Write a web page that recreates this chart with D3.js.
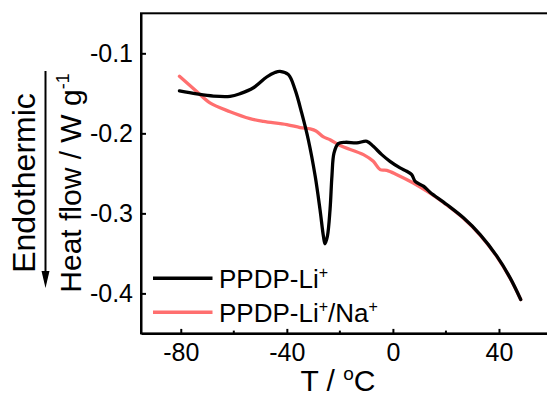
<!DOCTYPE html>
<html>
<head>
<meta charset="utf-8">
<script src="https://cdn.jsdelivr.net/npm/d3@7"></script>
<style>
  body { margin: 0; background: #fff; }
  text { font-family: Arial, "Liberation Sans", sans-serif; fill: #000; }
</style>
</head>
<body>
<div id="chart"></div>
<script>
// ===== data =====
let tempLi   = [-80.5, -74, -67.7, -61.4, -57.6, -52.6, -47.6, -44.5, -42.6, -39.4, -36.9, -34.4, -31.9, -29.3, -27.5, -26.2, -25.6, -24.7, -23.7, -23, -22.2, -20.6, -18, -13.6, -9.8, -7.4, -4.2, -1.1, 2.7, 5.2, 7.1, 8.4, 11.5, 14, 20.3, 26.6, 32.9, 39.2, 44.2, 48.2];
let flowLi   = [-0.147, -0.1508, -0.1535, -0.1538, -0.1504, -0.143, -0.1296, -0.124, -0.1226, -0.1267, -0.1454, -0.1745, -0.208, -0.2537, -0.295, -0.3286, -0.338, -0.3286, -0.295, -0.2537, -0.2245, -0.2129, -0.2112, -0.212, -0.21, -0.2162, -0.2266, -0.235, -0.2432, -0.2474, -0.2516, -0.26, -0.266, -0.2735, -0.289, -0.3056, -0.3265, -0.3535, -0.3806, -0.4076];

let tempLiNa = [-80.5, -74, -69, -61.4, -53.9, -48.8, -40, -35, -31.2, -29, -26.2, -23.7, -19.9, -11.1, -7.4, -4.8, -2.3, 1.5, 7.7, 14, 20.3, 26.6, 32.9, 39.2, 44.2, 48.2];
let flowLiNa = [-0.1288, -0.1476, -0.162, -0.173, -0.1816, -0.185, -0.189, -0.1928, -0.1945, -0.197, -0.2045, -0.208, -0.2153, -0.2266, -0.235, -0.2453, -0.2462, -0.2516, -0.262, -0.2748, -0.2895, -0.3062, -0.3272, -0.354, -0.381, -0.4076];

let xMajor = [-80, -40, 0, 40],
    xMinor = [-60, -20, 20],
    yTicks = [-0.1, -0.2, -0.3, -0.4];

let red = "#ff6f6f";

let series = [
  {color: red, t: tempLiNa, v: flowLiNa},
  {color: "#000", t: tempLi, v: flowLi}
];

// ===== layout =====
let W = 547, H = 396;
let plot = {left: 141, right: 552, top: 13.3, bottom: 333.4};

let x = d3.scaleLinear().domain([-95, 60]).range([plot.left, plot.right]),
    y = d3.scaleLinear().domain([-0.45, -0.05]).range([plot.bottom, plot.top]);

let svg = d3.select("#chart").append("svg")
    .attr("width", W)
    .attr("height", H);

// frame
svg.append("rect")
    .attr("x", plot.left).attr("y", plot.top)
    .attr("width", plot.right - plot.left).attr("height", plot.bottom - plot.top)
    .attr("fill", "none").attr("stroke", "#000").attr("stroke-width", 2);

let fmt = d => String(d).replace("\u2212", "-");

// x axis (ticks inside)
let gx = svg.append("g")
    .attr("transform", "translate(0," + plot.bottom + ")")
    .call(d3.axisBottom(x).tickValues(xMajor).tickSizeInner(-4.5).tickSizeOuter(0).tickPadding(10).tickFormat(fmt));
gx.append("g").selectAll("line")
    .data(xMinor)
  .enter().append("line")
    .attr("x1", d => x(d)).attr("x2", d => x(d))
    .attr("y1", 0).attr("y2", -2.8)
    .attr("stroke", "#000").attr("stroke-width", 2);

// y axis (ticks inside)
let gy = svg.append("g")
    .attr("transform", "translate(" + plot.left + ",0)")
    .call(d3.axisLeft(y).tickValues(yTicks).tickSizeInner(-5).tickSizeOuter(0).tickPadding(8).tickFormat(d => fmt(d3.format(".1f")(d))));

[gx, gy].forEach(g => {
  g.select(".domain").attr("stroke-width", 2);
  g.selectAll(".tick line").attr("stroke-width", 2);
  g.selectAll(".tick text").attr("font-size", 25).attr("font-family", "Arial, 'Liberation Sans', sans-serif");
});

// curves
let line = d3.line()
    .x(d => x(d[0]))
    .y(d => y(d[1]))
    .curve(d3.curveCatmullRom.alpha(0.5));

series.forEach(s => {
  svg.append("path")
      .datum(s.t.map((t, i) => [t, s.v[i]]))
      .attr("d", line)
      .attr("fill", "none")
      .attr("stroke", s.color)
      .attr("stroke-width", 3.3)
      .attr("stroke-linejoin", "round")
      .attr("stroke-linecap", "round");
});

// legend
let legend = [
  {color: "#000", y: 278.3, parts: [["PPDP-Li", false], ["+", true]]},
  {color: red, y: 312.3, parts: [["PPDP-Li", false], ["+", true], ["/Na", false], ["+", true]]}
];
legend.forEach(l => {
  svg.append("line")
      .attr("x1", 153).attr("x2", 212.5)
      .attr("y1", l.y).attr("y2", l.y)
      .attr("stroke", l.color).attr("stroke-width", 3.4);
  let t = svg.append("text")
      .attr("x", 219).attr("y", l.y + 10)
      .attr("font-size", 26);
  l.parts.forEach((p, i) => {
    t.append("tspan")
        .attr("font-size", p[1] ? 16 : 26)
        .attr("dy", p[1] ? -10 : (i > 0 ? 10 : 0))
        .text(p[0]);
  });
});

// x title
let xt = svg.append("text")
    .attr("x", 338).attr("y", 391)
    .attr("text-anchor", "middle")
    .attr("font-size", 30);
xt.append("tspan").text("T / ");
xt.append("tspan").attr("font-size", 19).attr("dy", -11).text("o");
xt.append("tspan").attr("dy", 11).text("C");

// y titles
svg.append("text")
    .attr("transform", "translate(35,183) rotate(-90)")
    .attr("text-anchor", "middle")
    .attr("font-size", 32)
    .text("Endothermic");

let yt = svg.append("text")
    .attr("transform", "translate(81,183) rotate(-90)")
    .attr("text-anchor", "middle")
    .attr("font-size", 30);
yt.append("tspan").text("Heat flow / W g");
yt.append("tspan").attr("font-size", 18).attr("dy", -12).text("-1");

// arrow
svg.append("line")
    .attr("x1", 45.5).attr("x2", 45.5)
    .attr("y1", 71).attr("y2", 274)
    .attr("stroke", "#000").attr("stroke-width", 2);
svg.append("path")
    .attr("d", "M41.5,271 L49.5,271 L45.5,288 Z")
    .attr("fill", "#000");
</script>
</body>
</html>
